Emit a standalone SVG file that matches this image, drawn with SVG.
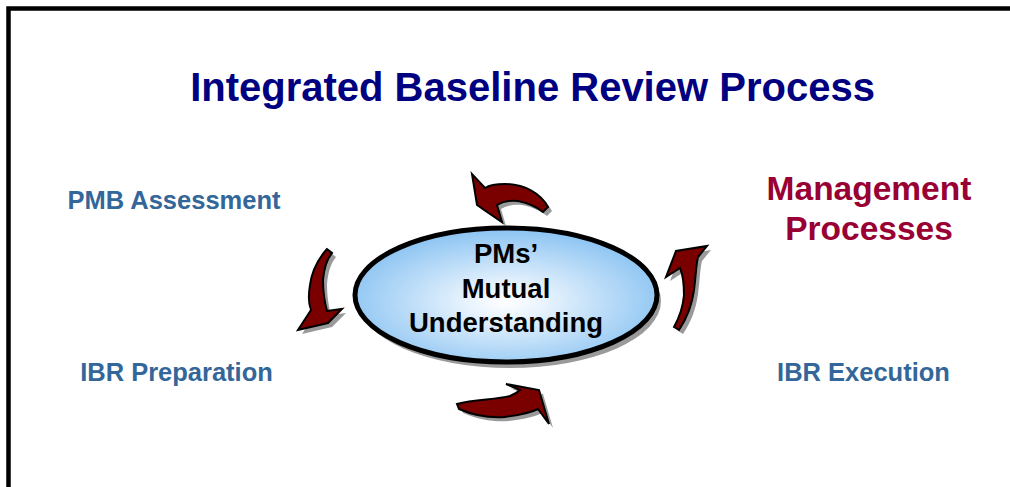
<svg xmlns="http://www.w3.org/2000/svg" width="1010" height="487" viewBox="0 0 1010 487">
<defs>
<style>
.frame{fill:#ffffff;stroke:#000000;stroke-width:4.5}
.title{font-family:"Liberation Sans",Arial,sans-serif;font-weight:bold;font-size:40px;fill:#000080;text-anchor:middle}
.lbl{font-family:"Liberation Sans",Arial,sans-serif;font-weight:bold;font-size:25.5px;fill:#336699;text-anchor:middle}
.mgmt{font-family:"Liberation Sans",Arial,sans-serif;font-weight:bold;font-size:33.5px;fill:#990033;text-anchor:middle}
.core{font-family:"Liberation Sans",Arial,sans-serif;font-weight:bold;font-size:27.5px;fill:#000000;text-anchor:middle}
.arrow{fill:#7a0000;stroke:#000000;stroke-width:2;stroke-linejoin:miter}
.shadow{fill:#9a9a9a;stroke:none}
</style>
<radialGradient id="blue" cx="0.5" cy="0.55" r="0.55">
<stop offset="0" stop-color="#ffffff"/>
<stop offset="0.25" stop-color="#e6f2fd"/>
<stop offset="1" stop-color="#8ac3f2"/>
</radialGradient>
<path id="aTop" d="M548,207 C541,194 525,184 505,184 C495,184 488,186 485,188 L472,174 L477,205 L502,222 L497,205 C502,202 510,200 518,201 C528,203 537,207 543,212 Z"/>
<path id="aBottom" d="M457,404 C475,399 495,400 510,396 C515,394 518,392 520,390 L506,384 L539,390 L549,424 L538,409 C530,413 520,415 505,417 C490,418 475,416 459,409 Z"/>
<path id="aLeft" d="M327,249 C319,258 312,270 310,285 C308,297 309,305 311,310 L298,330 L328,323 L342,309 L327,311 C324,300 323,290 323,280 C324,268 327,259 332,253 Z"/>
<path id="aRight" d="M679,330 C687,318 692,305 694,290 C696,275 696,265 698,257 L707,246 L676,251 L666,277 L680,268 C683,275 684,285 684,295 C683,307 679,318 674,327 Z"/>
</defs>
<rect class="frame" x="8.5" y="8.5" width="1020" height="520"/>
<g id="title"><text class="title" x="532.5" y="101">Integrated Baseline Review Process</text></g>
<g id="pmb-assessment"><text class="lbl" x="174" y="209">PMB Assessment</text></g>
<g id="ibr-preparation"><text class="lbl" x="176.5" y="381">IBR Preparation</text></g>
<g id="ibr-execution"><text class="lbl" x="863.5" y="381">IBR Execution</text></g>
<g id="management-processes"><text class="mgmt" x="869" y="200">Management</text><text class="mgmt" x="869" y="240">Processes</text></g>
<g id="connectors">
<use href="#aTop" class="shadow" transform="translate(4,4)"/>
<use href="#aBottom" class="shadow" transform="translate(4,4)"/>
<use href="#aLeft" class="shadow" transform="translate(4,4)"/>
<use href="#aRight" class="shadow" transform="translate(4,4)"/>
<use href="#aTop" class="arrow"/>
<use href="#aBottom" class="arrow"/>
<use href="#aLeft" class="arrow"/>
<use href="#aRight" class="arrow"/>
</g>
<g id="pms-mutual-understanding">
<ellipse cx="510" cy="301" rx="151" ry="67" fill="#9a9a9a"/>
<ellipse cx="506" cy="295" rx="151" ry="67" fill="url(#blue)" stroke="#000000" stroke-width="5"/>
<text class="core" x="506" y="263">PMs’</text>
<text class="core" x="506" y="298">Mutual</text>
<text class="core" x="506" y="332">Understanding</text>
</g>
</svg>
